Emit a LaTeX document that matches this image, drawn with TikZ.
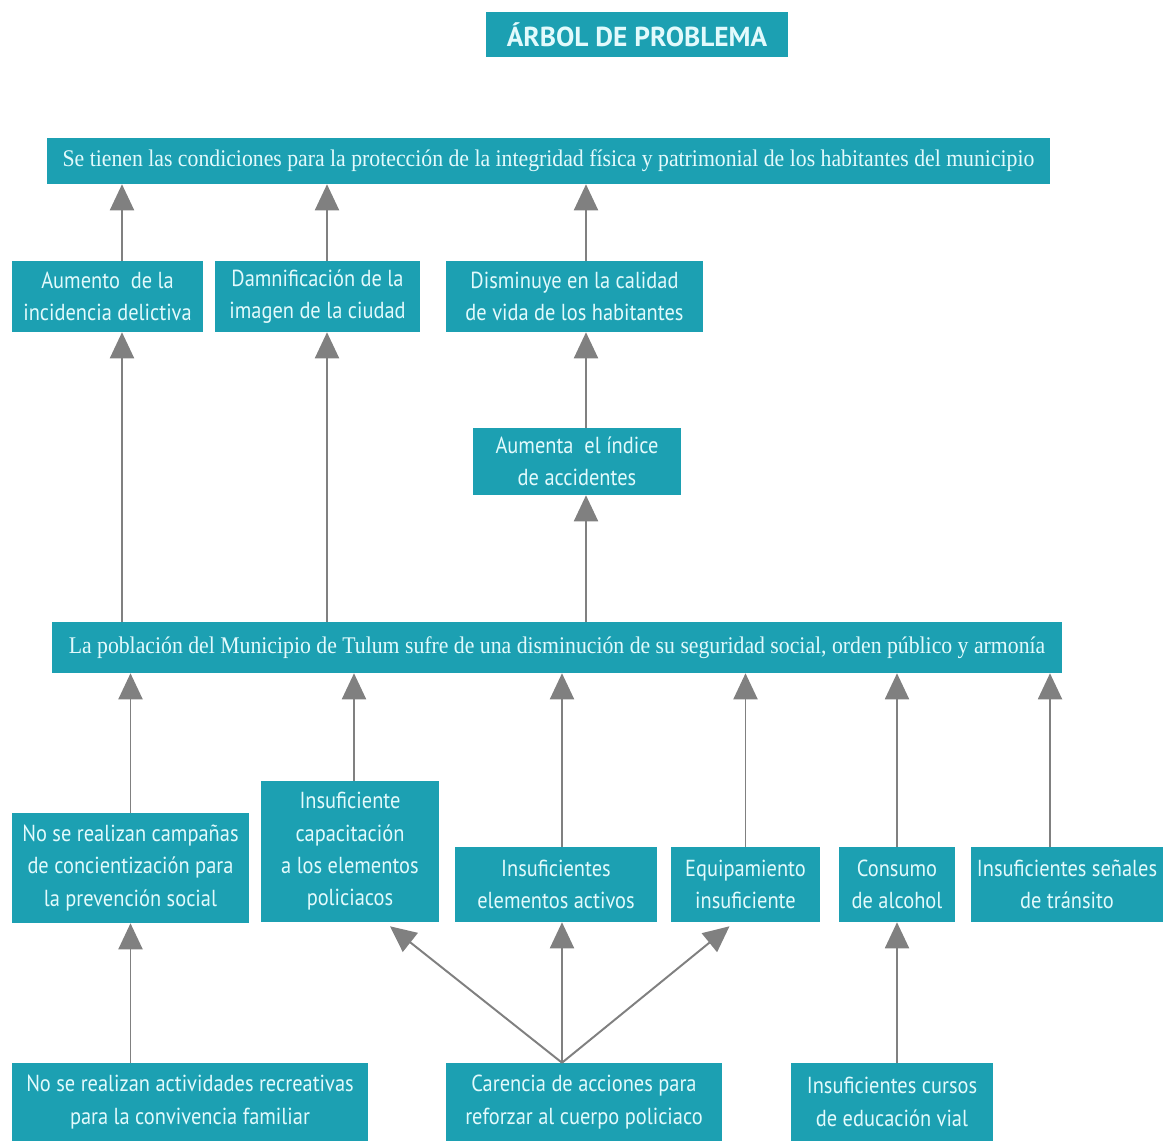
\documentclass[tikz,border=0pt]{standalone}
\usepackage{fontspec}
\usetikzlibrary{arrows.meta}
\newfontfamily\tsans[FakeStretch=0.88]{PT Sans}
\newfontfamily\tserif[FakeStretch=0.91]{Liberation Serif}
\newfontfamily\ttitle{PT Sans}
\definecolor{tteal}{RGB}{28,160,178}
\definecolor{tink}{RGB}{226,250,252}
\definecolor{tgray}{RGB}{128,128,128}
\tikzset{
  tblock/.style={fill=tteal,text=tink,align=center,inner sep=0pt,
    font=\tsans\fontsize{16.5}{23}\selectfont},
  tslab/.style={fill=tteal,text=tink,inner sep=0pt,
    font=\tserif\fontsize{17}{20}\selectfont},
  ttitlebox/.style={fill=tteal,text=tink,inner sep=0pt,
    font=\ttitle\bfseries\fontsize{19.5}{23}\selectfont},
  tarr/.style={tgray,line width=1.4pt,-{Triangle[length=6.5mm,width=6mm]}},
}
\begin{document}
\begin{tikzpicture}
\useasboundingbox (0,0) rectangle (29.2,-28.525);
%% title
\node[ttitlebox,minimum width=7.55cm,minimum height=1.125cm] (title) at (15.925,-0.8625) {ÁRBOL DE PROBLEMA};
%% ends (upper half of the tree)
\node[tslab,minimum width=25.075cm,minimum height=1.15cm] (goal) at (13.7125,-4.025)
  {Se tienen las condiciones para la protección de la integridad física y patrimonial de los habitantes del municipio};
\node[tblock,minimum width=4.775cm,minimum height=1.775cm] (crime) at (2.6875,-7.4125) {Aumento~ de la\\incidencia delictiva};
\node[tblock,minimum width=5.125cm,minimum height=1.775cm] (image) at (7.9375,-7.4125) {Damnificación de la\\imagen de la ciudad};
\node[tblock,minimum width=6.425cm,minimum height=1.775cm] (life) at (14.3625,-7.4125) {Disminuye en la calidad\\de vida de los habitantes};
\node[tblock,minimum width=5.2cm,minimum height=1.675cm] (accid) at (14.425,-11.5375) {Aumenta~ el índice\\de accidentes};
%% central problem
\node[tslab,minimum width=25.25cm,minimum height=1.275cm] (core) at (13.925,-16.1875)
  {La población del Municipio de Tulum sufre de una disminución de su seguridad social, orden público y armonía};
%% causes
\node[tblock,minimum width=5.925cm,minimum height=2.75cm] (camp) at (3.2625,-21.7) {No se realizan campañas\\de concientización para\\la prevención social};
\node[tblock,minimum width=4.45cm,minimum height=3.525cm] (train) at (8.75,-21.2875) {Insuficiente\\capacitación\\a los elementos\\policiacos};
\node[tblock,minimum width=5.05cm,minimum height=1.875cm] (staff) at (13.9,-22.1125) {Insuficientes\\elementos activos};
\node[tblock,minimum width=3.725cm,minimum height=1.875cm] (equip) at (18.6375,-22.1125) {Equipamiento\\insuficiente};
\node[tblock,minimum width=2.9cm,minimum height=1.875cm] (alcohol) at (22.425,-22.1125) {Consumo\\de alcohol};
\node[tblock,minimum width=4.8cm,minimum height=1.875cm] (signs) at (26.675,-22.1125) {Insuficientes señales\\de tránsito};
%% root causes
\node[tblock,minimum width=8.9cm,minimum height=1.95cm] (leisure) at (4.75,-27.55) {No se realizan actividades recreativas\\para la convivencia familiar};
\node[tblock,minimum width=6.9cm,minimum height=1.95cm] (police) at (14.6,-27.55) {Carencia de acciones para\\reforzar al cuerpo policiaco};
\node[tblock,minimum width=5.05cm,minimum height=1.95cm] (road) at (22.3,-27.55) {Insuficientes cursos\\de educación vial};
\coordinate (fork) at ([xshift=-0.55cm]police.north);
% ---- effects up to the goal
\draw[tarr] ([xshift=0.3625cm]crime.north) -- ([xshift=0.3625cm]crime.north |- goal.south);
\draw[tarr] ([xshift=0.2375cm]image.north) -- ([xshift=0.2375cm]image.north |- goal.south);
\draw[tarr] ([xshift=0.2875cm]life.north) -- ([xshift=0.2875cm]life.north |- goal.south);
\draw[tarr] ([xshift=0.225cm]accid.north) -- ([xshift=0.225cm]accid.north |- life.south);
% ---- central problem up to its effects
\draw[tarr] ([xshift=0.3625cm]crime.south |- core.north) -- ([xshift=0.3625cm]crime.south);
\draw[tarr] ([xshift=0.2375cm]image.south |- core.north) -- ([xshift=0.2375cm]image.south);
\draw[tarr] ([xshift=0.225cm]accid.south |- core.north) -- ([xshift=0.225cm]accid.south);
% ---- causes up to the central problem
\draw[tarr] (camp.north) -- (camp.north |- core.south);
\draw[tarr] ([xshift=0.1cm]train.north) -- ([xshift=0.1cm]train.north |- core.south);
\draw[tarr] ([xshift=0.15cm]staff.north) -- ([xshift=0.15cm]staff.north |- core.south);
\draw[tarr] (equip.north) -- (equip.north |- core.south);
\draw[tarr] (alcohol.north) -- (alcohol.north |- core.south);
\draw[tarr] ([xshift=-0.425cm]signs.north) -- ([xshift=-0.425cm]signs.north |- core.south);
% ---- root causes
\draw[tarr] (camp.south |- leisure.north) -- (camp.south);
\draw[tarr] (fork) -- ([xshift=1cm,yshift=-0.1cm]train.south);
\draw[tarr] (fork) -- (fork |- staff.south);
\draw[tarr] (fork) -- ([xshift=-0.4cm,yshift=-0.1cm]equip.south);
\draw[tarr] (alcohol.south |- road.north) -- (alcohol.south);
\end{tikzpicture}
\end{document}
